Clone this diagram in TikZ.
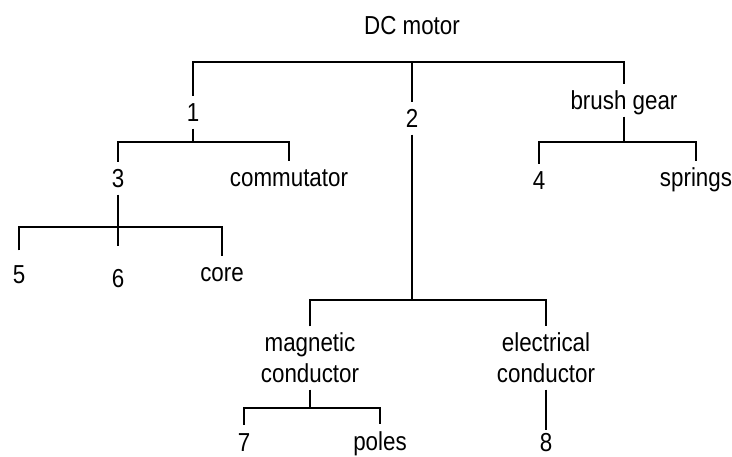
\documentclass[tikz,border=0pt]{standalone}
\usepackage{fontspec}
\setmainfont[FakeStretch=0.86]{Liberation Sans}
\usepackage{tikz}

\begin{document}
\begin{tikzpicture}[
  x=1pt, y=-1pt, line width=1.2pt,
  every node/.style={font=\fontsize{26}{31}\selectfont},
  lbl/.style={anchor=base, inner xsep=2pt, inner ysep=6pt,
              text height=19.5pt, text depth=0pt},
  pair/.style={align=center, inner xsep=2pt, inner ysep=6pt},
]
  \useasboundingbox (0,0) rectangle (732,457);

  \node[lbl] (motor) at (412,35) {DC motor};

  \node[lbl] (n1) at (193,122) {1};
  \node[lbl] (n2) at (412,128) {2};
  \node[lbl] (brush) at (624,110) {brush gear};
  \coordinate (top) at (412,62);

  \node[lbl] (n3) at (118,188) {3};
  \node[lbl] (comm) at (289,187) {commutator};
  \coordinate (j1) at (193,142);

  \node[lbl, outer ysep=8pt] (n5) at (19,284) {5};
  \node[lbl, outer ysep=16pt] (n6) at (118,288) {6};
  \node[lbl] (core) at (222,282) {core};
  \coordinate (j3) at (118,227);

  \node[lbl] (n4) at (539,190) {4};
  \node[lbl] (springs) at (696,187) {springs};
  \coordinate (jb) at (624,142);

  \node[pair] (mag) at (310,358) {magnetic\\conductor};
  \node[pair] (elec) at (546,358) {electrical\\conductor};
  \coordinate (j2) at (412,300);

  \node[lbl] (n7) at (244,451) {7};
  \node[lbl] (poles) at (380,450) {poles};
  \node[lbl, inner ysep=1pt] (n8) at (546,451) {8};
  \coordinate (jm) at (310,408);

  \draw (n1) |- (top) -| (brush);
  \draw (top) -- (n2);
  \draw (n1) -- (j1);
  \draw (n3) |- (j1) -| (comm);
  \draw (n5) |- (j3) -| (core);
  \draw (n3) -- (n6);
  \draw (brush) -- (jb);
  \draw (n4) |- (jb) -| (springs);
  \draw (n2) -- (j2);
  \draw (mag) |- (j2) -| (elec);
  \draw (mag) -- (jm);
  \draw (n7) |- (jm) -| (poles);
  \draw (elec) -- (n8);
\end{tikzpicture}
\end{document}
